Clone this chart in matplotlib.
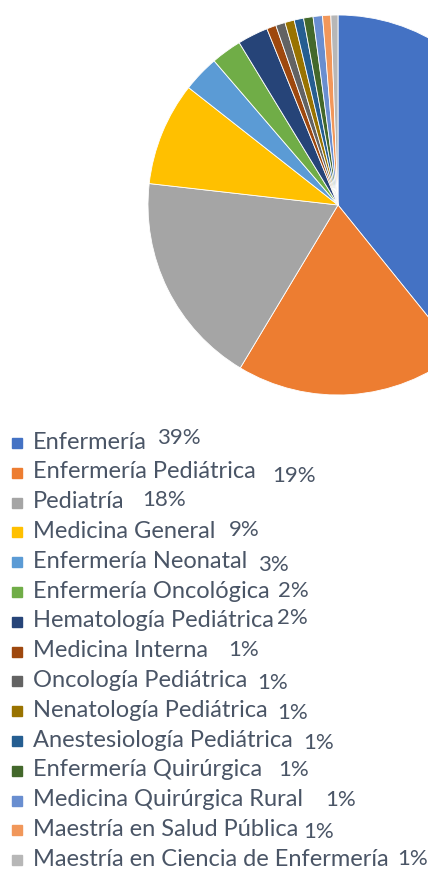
import matplotlib.pyplot as plt
from matplotlib.patches import Rectangle

W, H = 428, 871

labels = ["Enfermería", "Enfermería Pediátrica", "Pediatría", "Medicina General",
          "Enfermería Neonatal", "Enfermería Oncológica", "Hematología Pediátrica",
          "Medicina Interna", "Oncología Pediátrica", "Nenatología Pediátrica",
          "Anestesiología Pediátrica", "Enfermería Quirúrgica",
          "Medicina Quirúrgica Rural", "Maestría en Salud Pública",
          "Maestría en Ciencia de Enfermería"]
shares = [39.2, 19.4, 18.2, 8.8, 3.1, 2.6, 2.6, 0.8, 0.8, 0.8, 0.8, 0.8, 0.8, 0.7, 0.6]
pct_text = ["39%", "19%", "18%", "9%", "3%", "2%", "2%", "1%", "1%", "1%",
            "1%", "1%", "1%", "1%", "1%"]
colors = ["#4472C4", "#ED7D31", "#A5A5A5", "#FFC000", "#5B9BD5", "#70AD47",
          "#264478", "#9E480E", "#636363", "#997300", "#255E91", "#43682B",
          "#698ED0", "#F1975A", "#B7B7B7"]

# percent label placement (x start in px, small vertical offset in px)
pct_x = [157, 272, 142, 229, 258, 278, 277, 228, 257, 277, 303, 278, 325, 303, 397]
pct_dy = [-4, 4, -2, -1, 4, 0, -3, -1, 3, 3, 3, 0, 0, 3, 0]

fig = plt.figure(figsize=(W / 100, H / 100), dpi=100)

# pie, partly cut off at the right edge
cx, cy, r = 338, 205, 190
ax = fig.add_axes([(cx - r) / W, (H - cy - r) / H, 2 * r / W, 2 * r / H])
ax.pie(shares, colors=colors, startangle=90, counterclock=False,
       wedgeprops=dict(edgecolor="white", linewidth=0.6))
ax.set_xlim(-1, 1)
ax.set_ylim(-1, 1)
ax.axis("off")

# legend drawn by hand in pixel coords
lg = fig.add_axes([0, 0, 1, 1])
lg.set_xlim(0, W)
lg.set_ylim(H, 0)
lg.axis("off")

y0, step = 442, 29.8
txt_color = "#4a5566"
fs = 17
for i, (lab, c) in enumerate(zip(labels, colors)):
    y = y0 + i * step
    lg.add_patch(Rectangle((12, y - 4), 10, 10, color=c))
    lg.text(33, y, lab, fontsize=fs, family="Lato", color=txt_color,
            va="center", ha="left")
    lg.text(pct_x[i], y + pct_dy[i], pct_text[i], fontsize=fs - 1, family="Lato",
            color=txt_color, va="center", ha="left")

fig.savefig("out.png", dpi=100)
